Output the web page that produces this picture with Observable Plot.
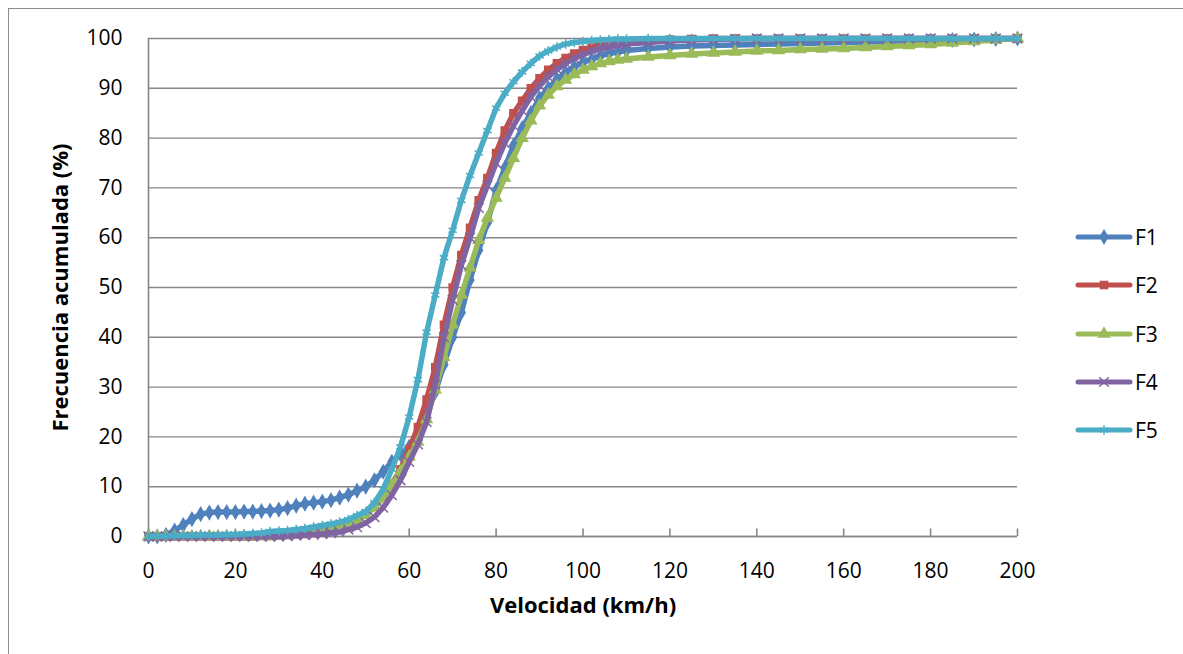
<!DOCTYPE html>
<html><head><meta charset="utf-8">
<script src="https://cdn.jsdelivr.net/npm/d3@7"></script>
<script src="https://cdn.jsdelivr.net/npm/@observablehq/plot@0.6"></script>
<style>
body{margin:0;background:#fff;}
#wrap{position:relative;width:1183px;height:654px;overflow:hidden;font-family:"Open Sans",sans-serif;background:#fff;}
#frame{position:absolute;left:8px;top:8px;width:1300px;height:800px;border:1px solid #8c8c8c;box-sizing:border-box;}
#chart{position:absolute;left:0;top:0;}
#legend{position:absolute;left:0;top:0;}
.lg{position:absolute;display:flex;align-items:center;font-size:21px;color:#000;}
</style></head><body>
<div id="wrap"><div id="frame"></div><div id="chart"></div><div id="legend"></div></div>
<script>
const speeds = [0,2,4,6,8,10,12,14,16,18,20,22,24,26,28,30,32,34,36,38,40,42,44,46,48,50,52,54,56,58,60,62,64,66,68,70,72,74,76,78,80,82,84,86,88,90,92,94,96,98,100,102,104,106,108,110,115,120,125,130,135,140,145,150,155,160,165,170,175,180,185,190,195,200];

const F1 = [0,0,0.3,1.2,2.3,3.5,4.5,4.8,4.9,4.9,
4.9,5.0,5.0,5.1,5.2,5.4,5.7,6.2,6.6,6.8,
7.0,7.3,7.8,8.4,9.2,10.0,11.3,13.0,15.0,16.5,
18.0,20.5,24.5,29,34.5,40,45,51.5,57.5,63,
69.5,74,78.5,82,85,88,90,91.8,93.2,94.3,
95.2,95.8,96.5,97,97.3,97.6,
98.0,98.3,98.5,98.6,98.7,98.8,98.9,99.0,99.1,99.2,99.3,99.4,99.5,99.6,99.7,99.8,99.9,100];

const F2 = [0,0,0,0,0,0,0,0,0,0,
0,0,0,0.1,0.1,0.2,0.3,0.4,0.5,0.7,
1.0,1.3,1.8,2.5,3.3,4.5,6.0,8.0,10.5,13.5,
17.5,22,27.5,34,42.5,50,56.5,62,67.5,72,
77,81.5,85,87.5,90,92,93.7,95,96.1,97,
97.7,98.2,98.6,98.9,99.1,99.3,
99.6,99.8,99.9,100,100,100,100,100,100,100,100,100,100,100,100,100,100,100];

const F3 = [0,0,0,0,0,0,0,0,0,0,
0,0,0,0,0,0.1,0.2,0.3,0.4,0.6,
0.9,1.2,1.7,2.3,3.2,4.3,5.8,7.8,10.3,13.0,
16.0,19.0,23.5,29.5,36,42.5,48.5,54,59.5,64,
68,72,76,80,83.5,86.5,88.7,90.4,91.7,92.8,
93.7,94.4,95.0,95.4,95.7,95.9,
96.3,96.6,96.9,97.1,97.3,97.5,97.6,97.8,97.9,98.0,98.2,98.4,98.6,98.8,99.1,99.4,99.7,100];

const F4 = [0,0,0,0,0,0,0,0,0,0,
0,0,0,0,0,0,0.1,0.2,0.3,0.4,
0.5,0.7,0.9,1.4,1.9,2.7,3.9,5.8,8.3,11.3,
15,18.5,23,30.5,40,47.5,54.5,60,66,70.5,
75,79,82.5,85.5,88.3,90.5,92.3,93.8,95,96,
96.8,97.5,98.0,98.4,98.7,98.9,
99.2,99.5,99.7,99.8,99.9,100,100,100,100,100,100,100,100,100,100,100,100,100];

const F5 = [0,0.1,0.1,0.2,0.2,0.2,0.3,0.3,0.3,0.4,
0.4,0.5,0.6,0.7,1.0,1.1,1.2,1.4,1.6,1.9,
2.2,2.5,2.9,3.4,4.2,5.0,6.8,9.5,13.5,18,
24,31.5,41,48.5,56,61.5,67.5,72.5,77,81.5,
86,89,91.3,93.3,95,96.5,97.5,98.3,98.9,99.2,
99.4,99.6,99.7,99.8,99.9,99.9,
100,100,100,100,100,100,100,100,100,100,100,100,100,100,100,100,100,100];

const seriesNames = ["F1","F2","F3","F4","F5"];
const seriesValues = [F1,F2,F3,F4,F5];
const seriesColors = ["#4F81BD","#C0504D","#9BBB59","#8064A2","#4BACC6"];
const seriesSymbols = ["diamond","square","triangle","times","asterisk"];
const xTicks = [0,20,40,60,80,100,120,140,160,180,200];
const yTicks = [0,10,20,30,40,50,60,70,80,90,100];
const xTitle = "Velocidad (km/h)";
const yTitle = "Frecuencia acumulada (%)";

const rows = seriesNames.map((name, i) => speeds.map((v, j) => ({serie: name, v, p: seriesValues[i][j]})));

const axisGray = "#868686";
const seriesMarks = rows.flatMap((data, i) => [
  Plot.line(data, {x: "v", y: "p", stroke: seriesColors[i], strokeWidth: 5.5, strokeLinejoin: "round"}),
  Plot.dot(data, {x: "v", y: "p", symbol: () => seriesSymbols[i], r: (i >= 3 ? 4.5 : 4),
    fill: seriesColors[i], stroke: seriesColors[i], strokeWidth: 1.5})
]);

const chart = Plot.plot({
  width: 1183, height: 654,
  marginLeft: 148, marginRight: 166, marginTop: 38, marginBottom: 118,
  x: {domain: [0, 200]},
  y: {domain: [0, 100]},
  symbol: {type: "identity"},
  style: {fontFamily: "'Open Sans', sans-serif", fontSize: "21px", color: "#000", background: "transparent", overflow: "visible"},
  marks: [
    Plot.gridY(yTicks, {stroke: axisGray, strokeOpacity: 1, strokeWidth: 1.4}),
    Plot.ruleX([0], {stroke: axisGray, strokeWidth: 1.6}),
    Plot.ruleY([0], {stroke: axisGray, strokeWidth: 1.6}),
    Plot.ruleX(xTicks, {x: d => d, y1: 0, y2: 1.5, stroke: axisGray, strokeWidth: 1.6}),
    Plot.axisY({ticks: yTicks, tickSize: 0, tickPadding: 26, label: null}),
    Plot.axisX({ticks: xTicks, tickSize: 0, tickPadding: 27, label: null}),
    ...seriesMarks,
    Plot.text([yTitle], {frameAnchor: "left", textAnchor: "middle", rotate: -90, dx: -88, fontWeight: "bold", fontSize: 22}),
    Plot.text([xTitle], {frameAnchor: "bottom", textAnchor: "middle", dy: 76, fontWeight: "bold", fontSize: 22})
  ]
});
document.getElementById("chart").appendChild(chart);

// legend
const legend = d3.select("#legend");
const d3Symbols = {diamond: d3.symbolDiamond, square: d3.symbolSquare, triangle: d3.symbolTriangle, times: d3.symbolTimes, asterisk: d3.symbolAsterisk};
seriesNames.forEach((name, i) => {
  const row = legend.append("div").attr("class", "lg")
    .style("left", "1074px").style("top", (237 + i * 48.3 - 14) + "px").style("height", "28px");
  const svg = row.append("svg").attr("width", 60).attr("height", 28);
  svg.append("line").attr("x1", 4).attr("x2", 56).attr("y1", 14).attr("y2", 14)
    .attr("stroke", seriesColors[i]).attr("stroke-width", 5).attr("stroke-linecap", "round");
  const stroked = i >= 3;
  svg.append("path").attr("transform", "translate(30,14)")
    .attr("d", d3.symbol(d3Symbols[seriesSymbols[i]], stroked ? 60 : 50)())
    .attr("fill", stroked ? "none" : seriesColors[i]).attr("stroke", seriesColors[i]).attr("stroke-width", 1.5);
  row.append("span").text(name).style("margin-left", "1px");
});
</script>
</body></html>
